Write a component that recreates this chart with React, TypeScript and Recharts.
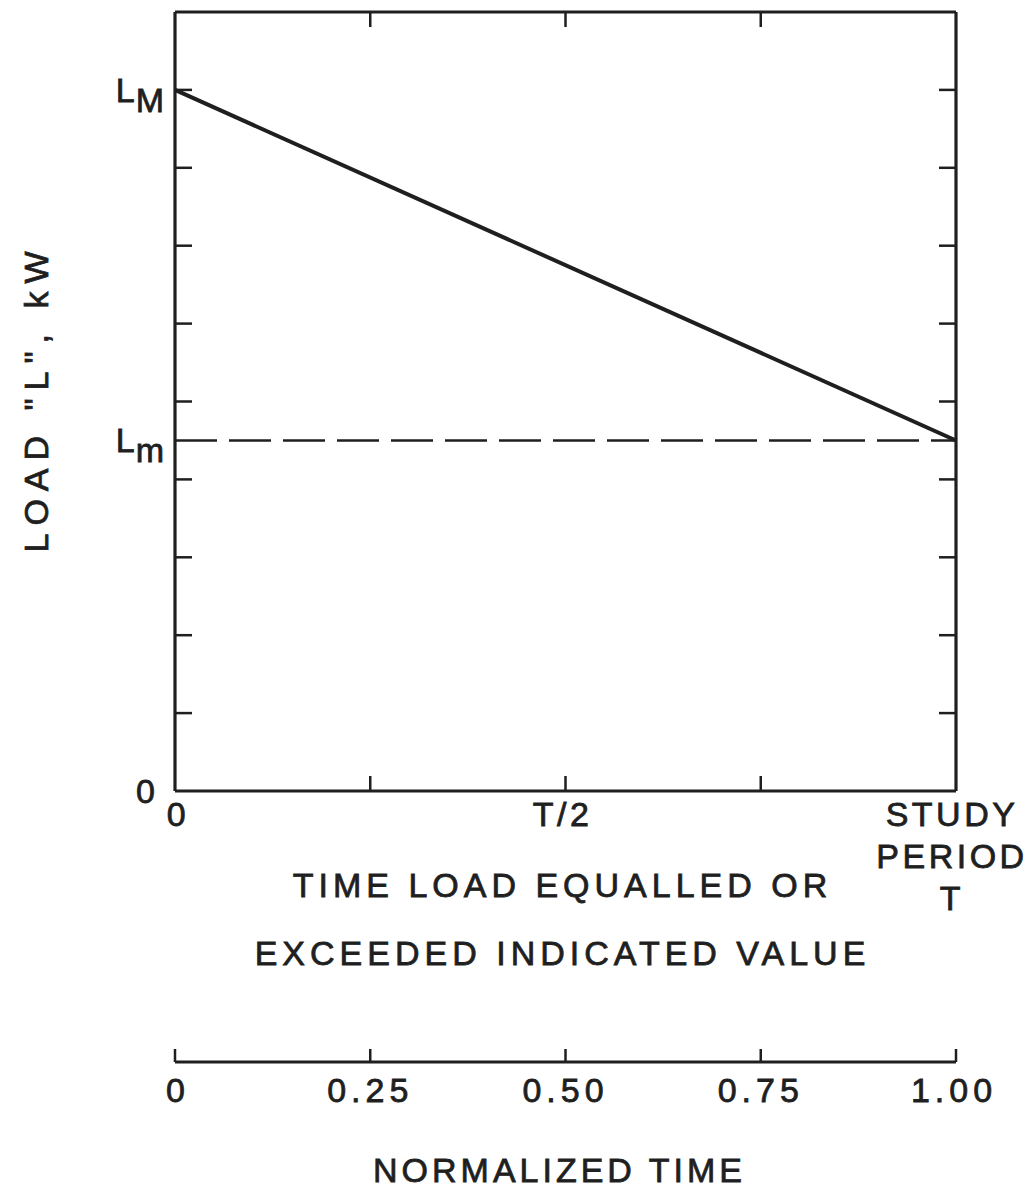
import { LineChart, Line, XAxis, YAxis } from 'recharts';

// normalized time (0 = start, 1 = end of study period T)
const timeFraction = [0, 1];
// load duration curve, L_M at start falling to L_m at T
const loadCurve = [9, 4.5];
// minimum load level, drawn dashed
const minimumLoad = [4.5, 4.5];

const loadFrameTicks = [1, 2, 3, 4, 5, 6, 7, 8, 9];
const loadLabelTicks = [0, 4.5, 9];
const loadLabelMain = ['0', 'L', 'L'];
const loadLabelSub = ['', 'm', 'M'];

const timeFrameTicks = [0.25, 0.5, 0.75];
const timeLabelTicks = [0, 0.5, 1];
const timeLabelLines = [['0'], ['T/2'], ['STUDY', 'PERIOD', 'T']];

const normTicks = [0, 0.25, 0.5, 0.75, 1];
const normLabels = ['0', '0.25', '0.50', '0.75', '1.00'];

const data = timeFraction.map((t, i) => ({ t, load: loadCurve[i], minLoad: minimumLoad[i] }));

const INK = '#1f1f1f';
const font = {
    fontFamily: '"Liberation Sans", Arial, sans-serif',
    fontSize: 34,
    fill: INK,
    stroke: INK,
    strokeWidth: 0.8,
    letterSpacing: 5,
};

function LoadTick({ x, y, payload }: any) {
    const i = loadLabelTicks.indexOf(payload.value);
    if (!loadLabelSub[i]) {
        return (
            <text x={x - 20} y={y + 12} textAnchor="end" style={{ ...font, letterSpacing: 0 }}>
                {loadLabelMain[i]}
            </text>
        );
    }
    return (
        <text x={x - 10} y={y + 12} textAnchor="end" style={{ ...font, letterSpacing: 1 }}>
            <tspan>{loadLabelMain[i]}</tspan>
            <tspan dy={10}>{loadLabelSub[i]}</tspan>
        </text>
    );
}

function TimeTick({ x, y, payload }: any) {
    const i = timeLabelTicks.indexOf(payload.value);
    const lines = timeLabelLines[i] || [];
    const dx = i === 0 ? 3 : i === 1 ? -3 : -4;
    return (
        <text x={x + dx} y={y + 35} textAnchor="middle" style={{ ...font, letterSpacing: 3.5 }}>
            {lines.map((s, k) => (
                <tspan key={k} x={x + dx} dy={k === 0 ? 0 : 42}>{s}</tspan>
            ))}
        </text>
    );
}

function NormTick({ x, y, payload }: any) {
    const i = normTicks.indexOf(payload.value);
    const dx = i === 0 ? 3 : i === normTicks.length - 1 ? -2 : 0;
    return (
        <g>
            <line x1={x} x2={x} y1={y} y2={y - 13} stroke={INK} strokeWidth={2.5} />
            <text x={x + dx} y={y + 40} textAnchor="middle" style={font}>
                {normLabels[i]}
            </text>
        </g>
    );
}

const NoLabel = () => null;

function TimeTitle({ viewBox }: any) {
    const cx = viewBox.x + viewBox.width / 2 - 3;
    return (
        <text textAnchor="middle" style={font}>
            <tspan x={cx} y={viewBox.y + 106}>TIME LOAD EQUALLED OR</tspan>
            <tspan x={cx} y={viewBox.y + 174}>EXCEEDED INDICATED VALUE</tspan>
        </text>
    );
}

function NormTitle({ viewBox }: any) {
    const cx = viewBox.x + viewBox.width / 2 - 6;
    return (
        <text x={cx} y={viewBox.y + 120} textAnchor="middle" style={{ ...font, letterSpacing: 4 }}>
            NORMALIZED TIME
        </text>
    );
}

function LoadTitle({ viewBox }: any) {
    const cx = viewBox.x + 36;
    const cy = 398;
    return (
        <text x={cx} y={cy} textAnchor="middle" dominantBaseline="central"
            transform={`rotate(-90, ${cx}, ${cy})`} style={{ ...font, letterSpacing: 8 }}>
            LOAD "L", kW
        </text>
    );
}

const frameLine = { stroke: INK, strokeWidth: 3.2 };
const frameTick = { stroke: INK, strokeWidth: 2.5 };

export default function App() {
    return (
        <div style={{ position: 'absolute', left: 0, top: 0, width: 1035, height: 1190, background: '#fff' }}>
            <LineChart width={1035} height={1190} data={data}
                margin={{ top: 12, right: 79, bottom: 0, left: 0 }}>
                {/* labelled axes */}
                <XAxis xAxisId="b_norm" dataKey="t" type="number" domain={[0, 1]} ticks={normTicks}
                    height={128} axisLine={frameLine} tickLine={false} tickSize={0} tickMargin={0}
                    tick={<NormTick />} interval={0} allowDataOverflow label={<NormTitle />} />
                <XAxis xAxisId="a_time" dataKey="t" type="number" domain={[0, 1]} ticks={timeLabelTicks}
                    height={271} axisLine={false} tickLine={false} tickSize={0} tickMargin={0}
                    tick={<TimeTick />} interval={0} label={<TimeTitle />} />
                <YAxis yAxisId="load" type="number" domain={[0, 10]} ticks={loadLabelTicks}
                    width={175} axisLine={false} tickLine={false} tickSize={0} tickMargin={0}
                    tick={<LoadTick />} interval={0} label={<LoadTitle />} />

                {/* frame with inward ticks */}
                <XAxis xAxisId="frameTop" orientation="top" mirror type="number" domain={[0, 1]}
                    ticks={timeFrameTicks} tick={<NoLabel />} tickSize={15} axisLine={frameLine}
                    tickLine={frameTick} allowDataOverflow interval={0} />
                <XAxis xAxisId="frameBottom" orientation="bottom" mirror type="number" domain={[0, 1]}
                    ticks={timeFrameTicks} tick={<NoLabel />} tickSize={15} axisLine={frameLine}
                    tickLine={frameTick} allowDataOverflow interval={0} />
                <YAxis yAxisId="frameLeft" orientation="left" mirror type="number" domain={[0, 10]}
                    ticks={loadFrameTicks} tick={<NoLabel />} tickSize={17} axisLine={frameLine}
                    tickLine={frameTick} allowDataOverflow interval={0} />
                <YAxis yAxisId="frameRight" orientation="right" mirror type="number" domain={[0, 10]}
                    ticks={loadFrameTicks} tick={<NoLabel />} tickSize={17} axisLine={frameLine}
                    tickLine={frameTick} allowDataOverflow interval={0} />

                <Line xAxisId="a_time" yAxisId="load" dataKey="minLoad" stroke={INK} strokeWidth={2.5}
                    strokeDasharray="42 12" dot={false} isAnimationActive={false} />
                <Line xAxisId="a_time" yAxisId="load" dataKey="load" stroke={INK} strokeWidth={4}
                    dot={false} isAnimationActive={false} />
            </LineChart>
        </div>
    );
}
